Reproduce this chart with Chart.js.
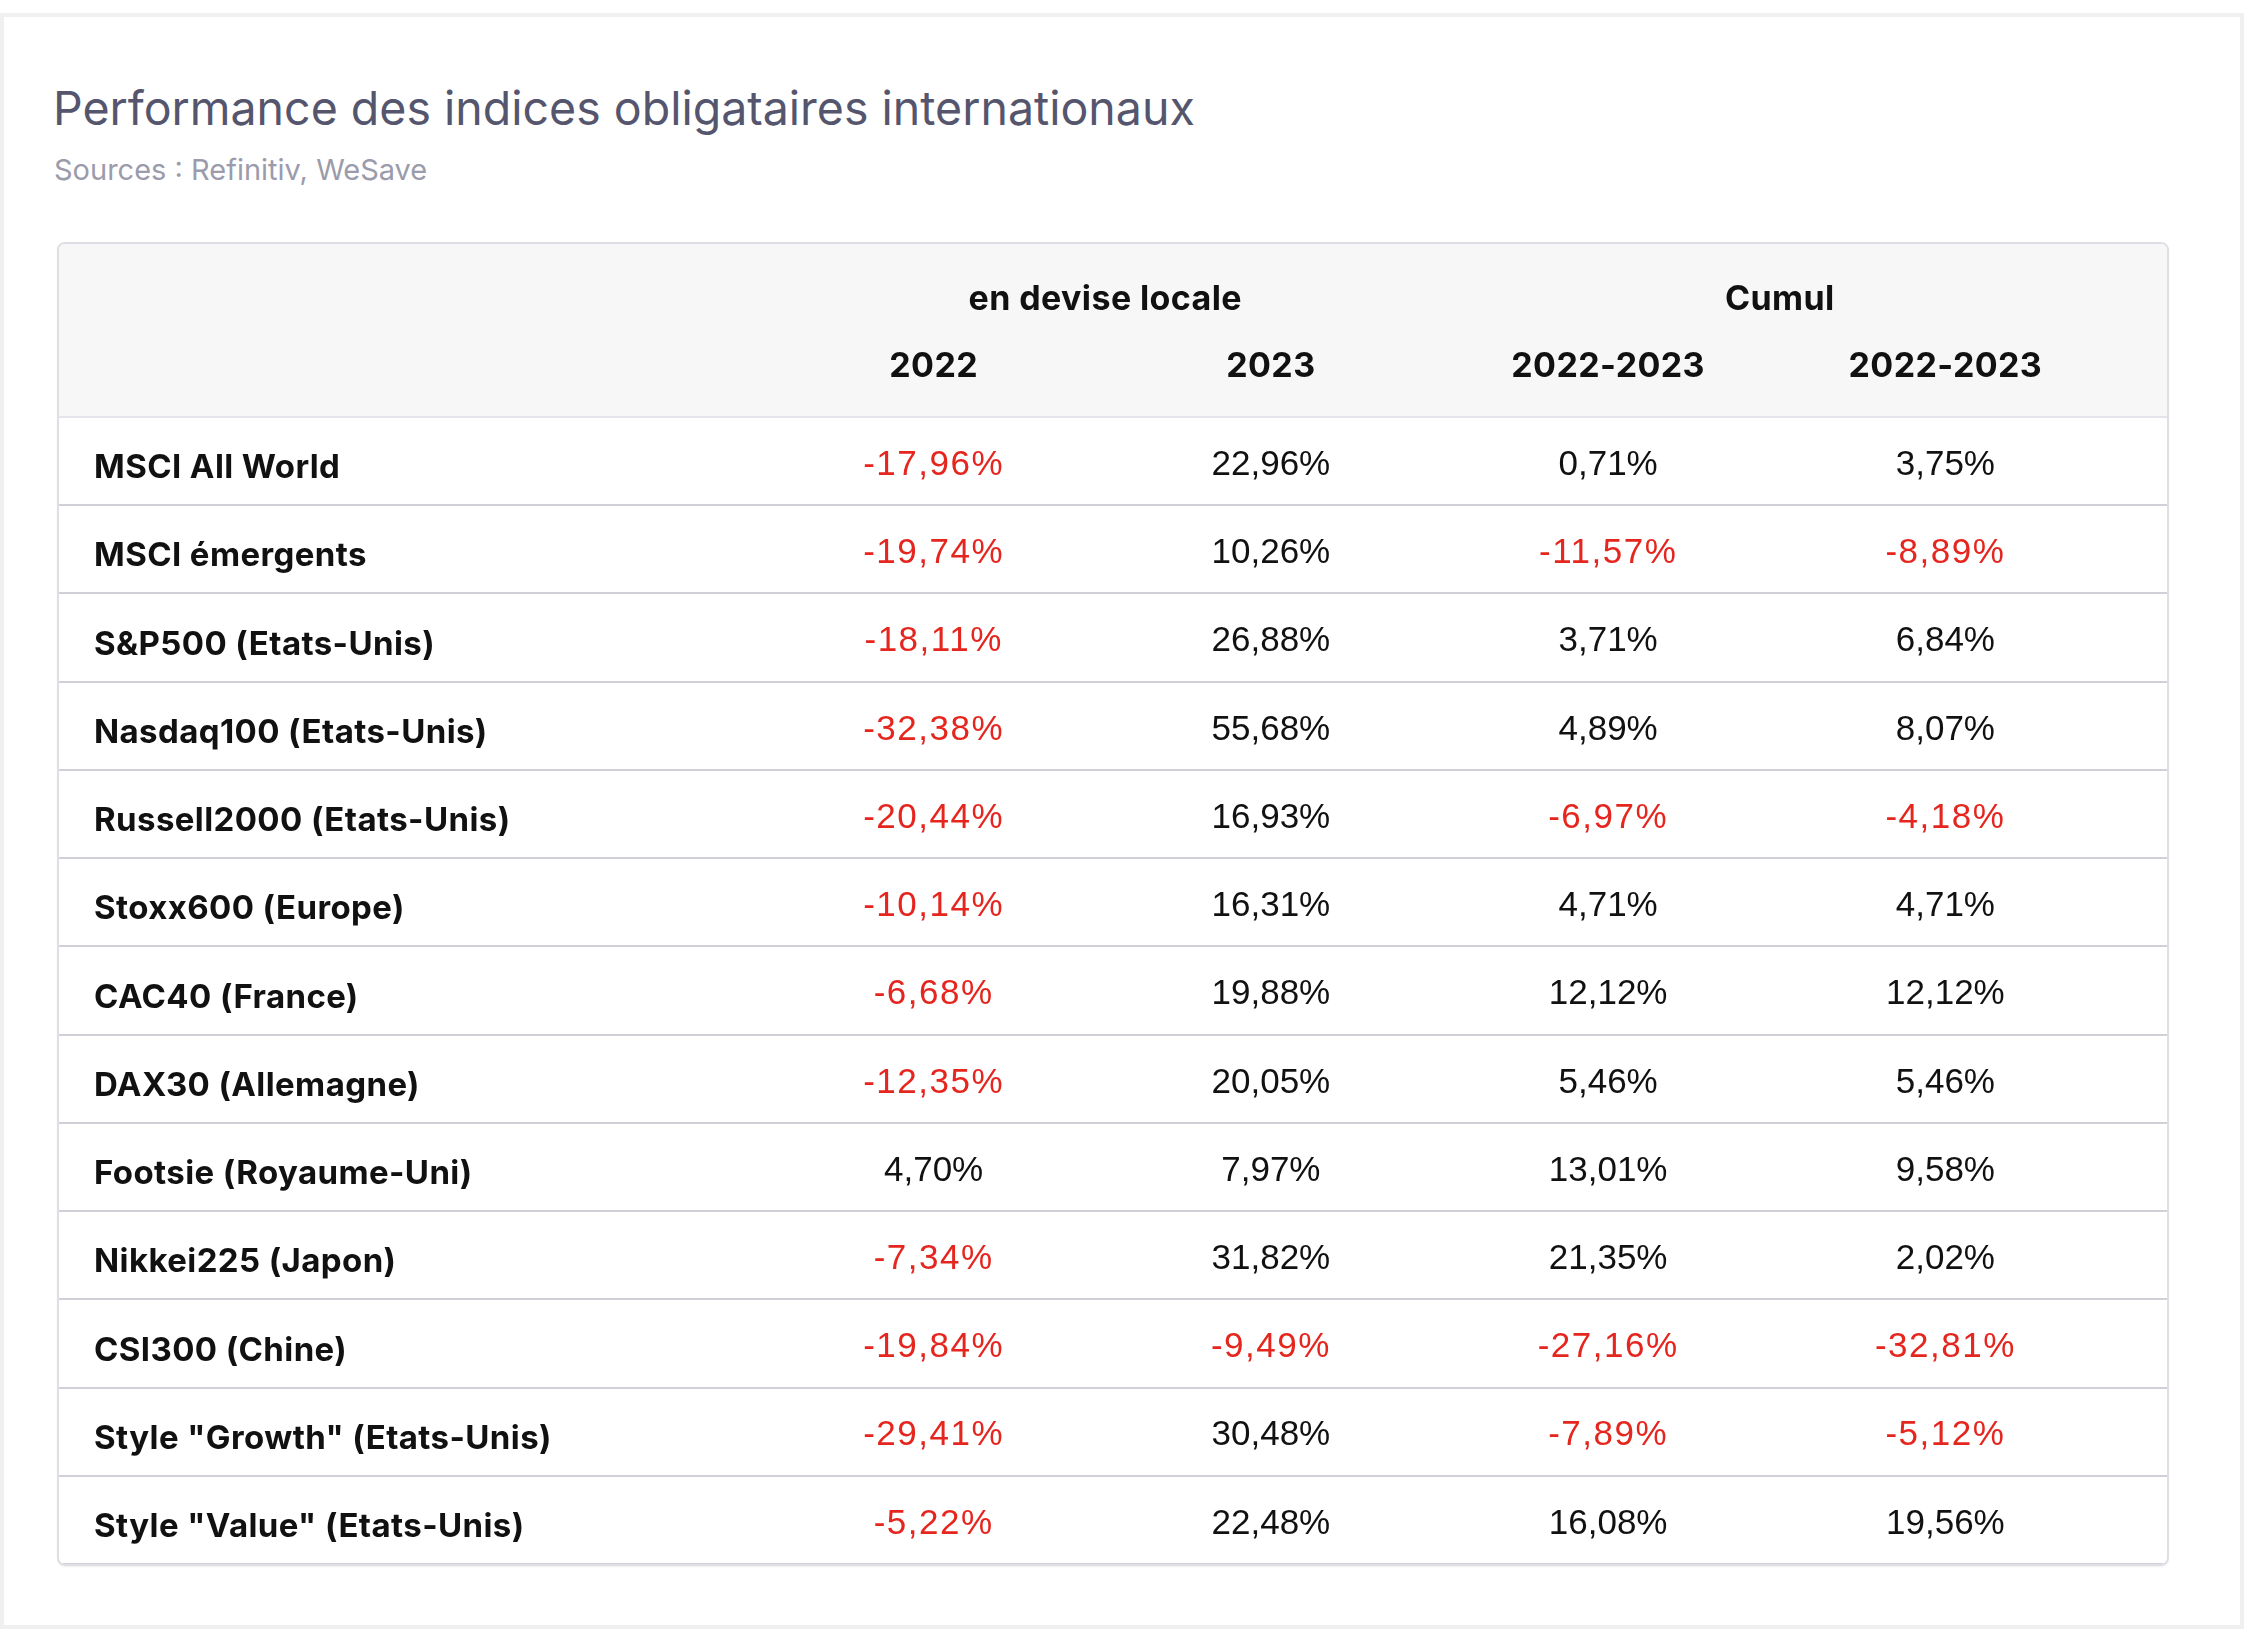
<!DOCTYPE html>
<html lang="fr">
<head>
<meta charset="utf-8">
<title>Performance des indices obligataires internationaux</title>
<script src="https://cdn.jsdelivr.net/npm/chart.js@4.4.1/dist/chart.umd.min.js"></script>
<style>
  html, body { margin: 0; padding: 0; background: #fff; }
  body { width: 2244px; height: 1629px; position: relative; overflow: hidden; font-family: Inter, "Noto Sans", sans-serif; }
  .card { position: absolute; left: 0; top: 13px; width: 2244px; height: 1616px; border: 4px solid #f0f0f0; box-sizing: border-box; background: #fff; }
  h1 { position: absolute; left: 53px; top: 85px; margin: 0; font-size: 46.5px; line-height: 46px; font-weight: 400; color: #55566e; white-space: nowrap; }
  .source { position: absolute; left: 54px; top: 155px; font-size: 29px; line-height: 29px; color: #9b9bab; white-space: nowrap; }
  .table { position: absolute; left: 57px; top: 242px; width: 2112px; height: 1324px; border: 2px solid #dedee4; border-radius: 8px; box-sizing: border-box; overflow: hidden; box-shadow: 0 1px 2px rgba(0,0,0,.06); }
  .wrap { position: absolute; left: 0; top: 0; width: 2108px; height: 1340px; }
</style>
</head>
<body>
<div class="card"></div>
<h1>Performance des indices obligataires internationaux</h1>
<div class="source">Sources : Refinitiv, WeSave</div>
<div class="table"><div class="wrap"><canvas id="perfTable"></canvas></div></div>

<script>
// lignes du tableau
const categories = [
    'MSCI All World',
    'MSCI émergents',
    'S&P500 (Etats-Unis)',
    'Nasdaq100 (Etats-Unis)',
    'Russell2000 (Etats-Unis)',
    'Stoxx600 (Europe)',
    'CAC40 (France)',
    'DAX30 (Allemagne)',
    'Footsie (Royaume-Uni)',
    'Nikkei225 (Japon)',
    'CSI300 (Chine)',
    'Style "Growth" (Etats-Unis)',
    'Style "Value" (Etats-Unis)'
];

const perf2022 = [-17.96, -19.74, -18.11, -32.38, -20.44, -10.14, -6.68, -12.35, 4.70, -7.34, -19.84, -29.41, -5.22];
const perf2023 = [22.96, 10.26, 26.88, 55.68, 16.93, 16.31, 19.88, 20.05, 7.97, 31.82, -9.49, 30.48, 22.48];
const cumulA = [0.71, -11.57, 3.71, 4.89, -6.97, 4.71, 12.12, 5.46, 13.01, 21.35, -27.16, -7.89, 16.08];
const cumulB = [3.75, -8.89, 6.84, 8.07, -4.18, 4.71, 12.12, 5.46, 9.58, 2.02, -32.81, -5.12, 19.56];

const columnLabels = ['2022', '2023', '2022-2023', '2022-2023'];
const groupLabels = ['en devise locale', 'Cumul'];

const RED = '#e5261f';
const INK = '#111111';

function formatPct(v) {
    return v.toFixed(2).replace('.', ',') + '%';
}

function gridColor(ctx) {
    return ctx.index === 0 ? '#e4e4ea' : '#d0d0d9';
}

const columns = [perf2022, perf2023, cumulA, cumulB];

const tableCells = {
    id: 'tableCells',
    beforeDraw(chart) {
        const { ctx, chartArea } = chart;
        ctx.save();
        ctx.fillStyle = '#f7f7f7';
        ctx.fillRect(0, 0, chart.width, chartArea.top);
        ctx.restore();
        // un peu d'espacement pour les libelles d'axes
        ctx.letterSpacing = '0.4px';
    },
    afterDatasetsDraw(chart) {
        const { ctx } = chart;
        ctx.save();
        ctx.font = '35px "Liberation Sans", Arial, sans-serif';
        ctx.textAlign = 'center';
        ctx.textBaseline = 'middle';
        chart.data.datasets.forEach((ds, i) => {
            chart.getDatasetMeta(i).data.forEach((pt, j) => {
                const v = ds.data[j].v;
                ctx.fillStyle = v < 0 ? RED : INK;
                ctx.letterSpacing = v < 0 ? '1.5px' : '0px';
                ctx.fillText(formatPct(v), pt.x, pt.y + 4);
            });
        });
        ctx.restore();
    }
};

const headerFont = { family: 'Inter', size: 34, weight: '700' };

new Chart(document.getElementById('perfTable'), {
    type: 'scatter',
    data: {
        datasets: columns.map((values, c) => ({
            label: columnLabels[c],
            data: values.map((v, r) => ({ x: c, y: r, v })),
            parsing: false,
            pointRadius: 0,
            pointHoverRadius: 0,
            showLine: false
        }))
    },
    options: {
        responsive: true,
        maintainAspectRatio: false,
        animation: false,
        events: [],
        layout: { padding: { top: 0, left: 35, right: 0, bottom: 13.5 } },
        plugins: {
            legend: { display: false },
            tooltip: { enabled: false },
            title: { display: false }
        },
        scales: {
            x: {
                type: 'category',
                position: 'top',
                labels: columnLabels,
                offset: true,
                grid: { display: false, drawTicks: false },
                border: { display: false },
                ticks: { padding: 30, color: INK, font: headerFont, autoSkip: false, maxRotation: 0 },
                afterFit: s => { s.height = 80; }
            },
            x2: {
                type: 'category',
                position: 'top',
                weight: 1,
                labels: groupLabels,
                offset: true,
                grid: { display: false, drawTicks: false },
                border: { display: false },
                ticks: { padding: 17, labelOffset: 3, color: INK, font: headerFont, autoSkip: false, maxRotation: 0 },
                afterFit: s => { s.height = 93; }
            },
            y: {
                type: 'category',
                position: 'left',
                labels: categories,
                offset: true,
                grid: { offset: true, color: gridColor, lineWidth: 2, drawTicks: true, tickLength: 706 },
                border: { display: false },
                ticks: {
                    crossAlign: 'far', padding: 0, labelOffset: 7, autoSkip: false,
                    color: INK, font: { family: 'Inter', size: 33, weight: '700' }
                },
                afterFit: s => { s.width = 671; }
            },
            y2: {
                type: 'category',
                position: 'right',
                labels: categories,
                offset: true,
                grid: { offset: true, color: gridColor, lineWidth: 2, drawOnChartArea: false, drawTicks: true, tickLength: 53 },
                border: { display: false },
                ticks: { display: false },
                afterFit: s => { s.width = 53; }
            }
        }
    },
    plugins: [tableCells]
});
</script>
</body>
</html>
